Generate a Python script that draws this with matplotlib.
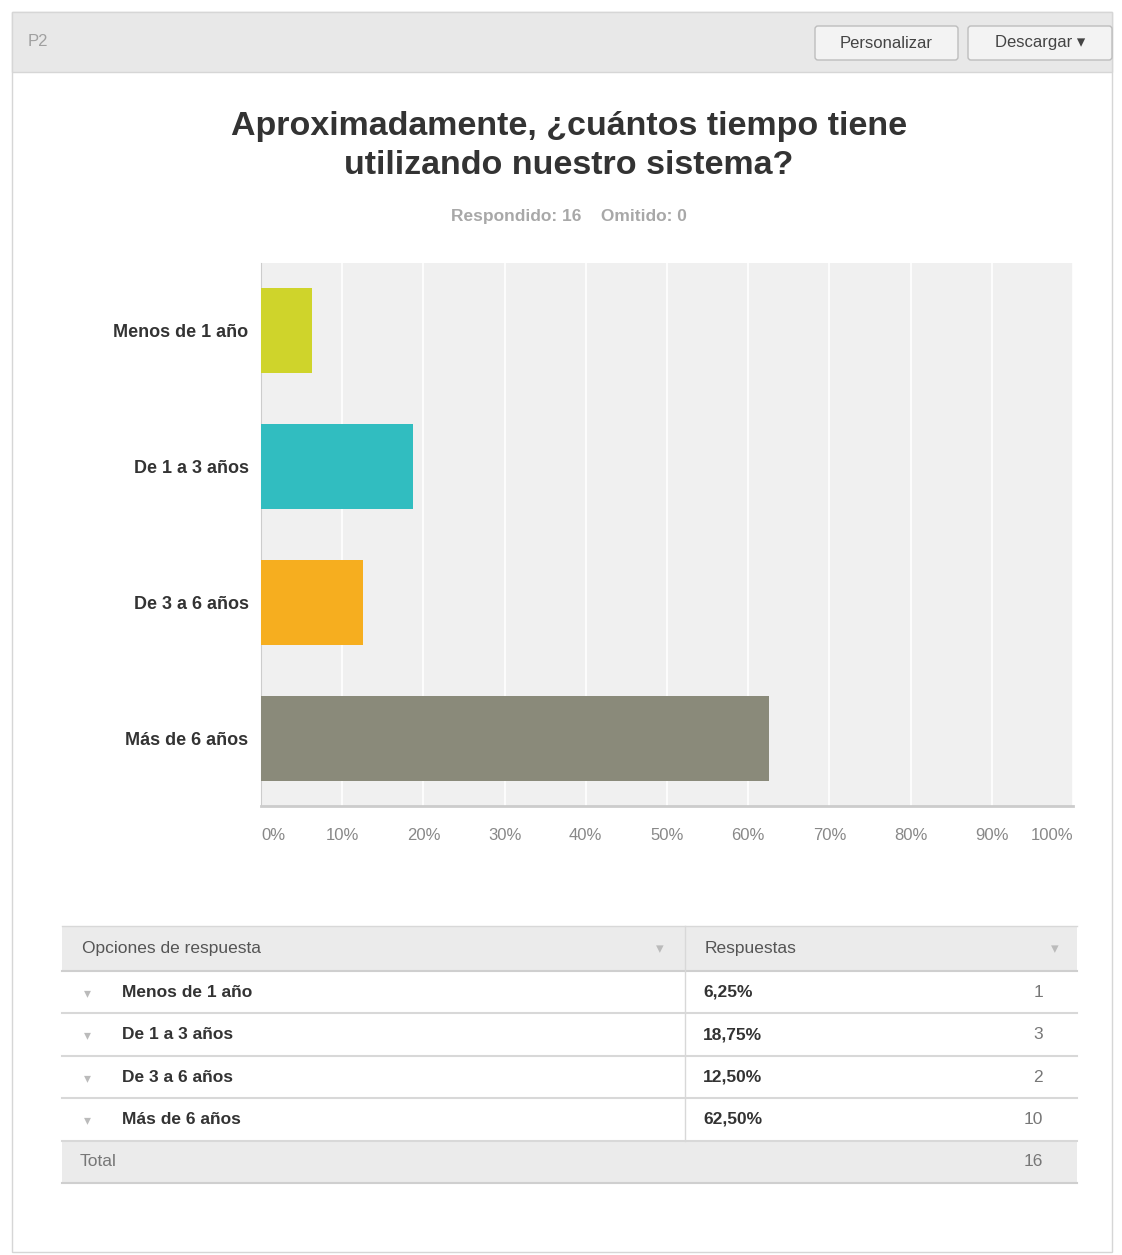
import matplotlib.pyplot as plt
from matplotlib.patches import Rectangle, FancyBboxPatch

plt.rcParams['font.family'] = ['Liberation Sans', 'DejaVu Sans']

categories = ['Menos de 1 año', 'De 1 a 3 años', 'De 3 a 6 años', 'Más de 6 años']
percents = [6.25, 18.75, 12.50, 62.50]
counts = [1, 3, 2, 10]
bar_colors = ['#cfd42b', '#31bdc0', '#f6ae1f', '#8a8a7a']
x_ticks = [0, 10, 20, 30, 40, 50, 60, 70, 80, 90, 100]
total = 16
skipped = 0

W, H = 1122, 1255
fig = plt.figure(figsize=(W / 100, H / 100), dpi=100)
fig.patch.set_facecolor('white')

# overlay in pixel coordinates for the page frame and the table
page = fig.add_axes([0, 0, 1, 1])
page.set_xlim(0, W)
page.set_ylim(H, 0)
page.axis('off')

page.add_patch(Rectangle((12, 12), 1100, 1240, facecolor='white',
                         edgecolor='#d6d6d6', lw=1))
page.add_patch(Rectangle((12, 12), 1100, 60, facecolor='#e8e8e8',
                         edgecolor='#d6d6d6', lw=1))
page.text(28, 42, 'P2', fontsize=12, color='#a0a0a0', va='center')

for x0, x1, label in [(815, 958, 'Personalizar'), (968, 1112, 'Descargar \u25be')]:
    page.add_patch(FancyBboxPatch((x0, 26), x1 - x0, 34,
                                  boxstyle='round,pad=0,rounding_size=3',
                                  facecolor='#f3f3f3', edgecolor='#bdbdbd', lw=1))
    page.text((x0 + x1) / 2, 43, label, fontsize=12, color='#444444',
              ha='center', va='center')

page.text(569, 146, 'Aproximadamente, ¿cuántos tiempo tiene\nutilizando nuestro sistema?',
          fontsize=24.5, fontweight='bold', color='#333333', ha='center',
          va='center', linespacing=1.3)
page.text(569, 217, f'Respondido: {total}    Omitido: {skipped}', fontsize=12.5,
          fontweight='bold', color='#a8a8a8', ha='center', va='center')

# bar chart
left, right, top, bottom = 261, 1073, 263, 806
ax = fig.add_axes([left / W, 1 - bottom / H, (right - left) / W, (bottom - top) / H])
ax.set_facecolor('#f0f0f0')
ypos = list(range(len(categories)))
ax.barh(ypos, percents, height=0.625, color=bar_colors, zorder=3)
ax.set_xlim(0, 100)
ax.set_ylim(len(categories) - 0.5, -0.5)
ax.set_xticks(x_ticks)
ax.set_xticklabels([f'{t}%' for t in x_ticks], fontsize=12, color='#888888')
# first and last labels stay inside the plot width
ax.get_xticklabels()[0].set_ha('left')
ax.get_xticklabels()[-1].set_ha('right')
ax.set_yticks(ypos)
ax.set_yticklabels(categories, fontsize=13, fontweight='bold', color='#333333')
ax.tick_params(axis='both', length=0)
ax.tick_params(axis='x', pad=16)
ax.tick_params(axis='y', pad=9)
ax.grid(axis='x', color='white', lw=1.2, zorder=1)
for s in ['top', 'right']:
    ax.spines[s].set_visible(False)
ax.spines['left'].set_color('#cccccc')
ax.spines['bottom'].set_color('#cccccc')
ax.spines['bottom'].set_linewidth(2)

# summary table
tx0, tx1, tdiv = 62, 1077, 685
header_top, header_bot = 926, 971
row_h = 42.4
page.add_patch(Rectangle((tx0, header_top), tx1 - tx0, header_bot - header_top,
                         facecolor='#ebebeb', edgecolor='none'))
page.plot([tx0, tx1], [header_top, header_top], color='#d8d8d8', lw=1)
page.plot([tx0, tx1], [header_bot, header_bot], color='#cfcfcf', lw=1.5)
hy = (header_top + header_bot) / 2
page.text(82, hy, 'Opciones de respuesta', fontsize=12.5, color='#555555', va='center')
page.text(705, hy, 'Respuestas', fontsize=12.5, color='#555555', va='center')
page.text(660, hy + 1, '\u25be', fontsize=11, color='#bbbbbb', ha='center', va='center')
page.text(1055, hy + 1, '\u25be', fontsize=11, color='#bbbbbb', ha='center', va='center')

for i, (cat, pct, n) in enumerate(zip(categories, percents, counts)):
    y0 = header_bot + i * row_h
    yc = y0 + row_h / 2
    page.text(87, yc + 1, '\u25be', fontsize=10, color='#bbbbbb', ha='center', va='center')
    page.text(122, yc, cat, fontsize=12.5, fontweight='bold', color='#333333', va='center')
    page.text(703, yc, f'{pct:.2f}%'.replace('.', ','), fontsize=12.5,
              fontweight='bold', color='#333333', va='center')
    page.text(1043, yc, str(n), fontsize=12.5, color='#777777', ha='right', va='center')
    page.plot([tx0, tx1], [y0 + row_h, y0 + row_h], color='#d8d8d8', lw=1.5)

rows_bot = header_bot + len(categories) * row_h
page.plot([tdiv, tdiv], [header_top, rows_bot], color='#d8d8d8', lw=1)
page.add_patch(Rectangle((tx0, rows_bot), tx1 - tx0, 42, facecolor='#ebebeb',
                         edgecolor='none'))
page.plot([tx0, tx1], [rows_bot + 42, rows_bot + 42], color='#cfcfcf', lw=1.5)
page.text(80, rows_bot + 21, 'Total', fontsize=12.5, color='#777777', va='center')
page.text(1043, rows_bot + 21, str(sum(counts)), fontsize=12.5, color='#777777',
          ha='right', va='center')

fig.savefig('out.png', dpi=100)
